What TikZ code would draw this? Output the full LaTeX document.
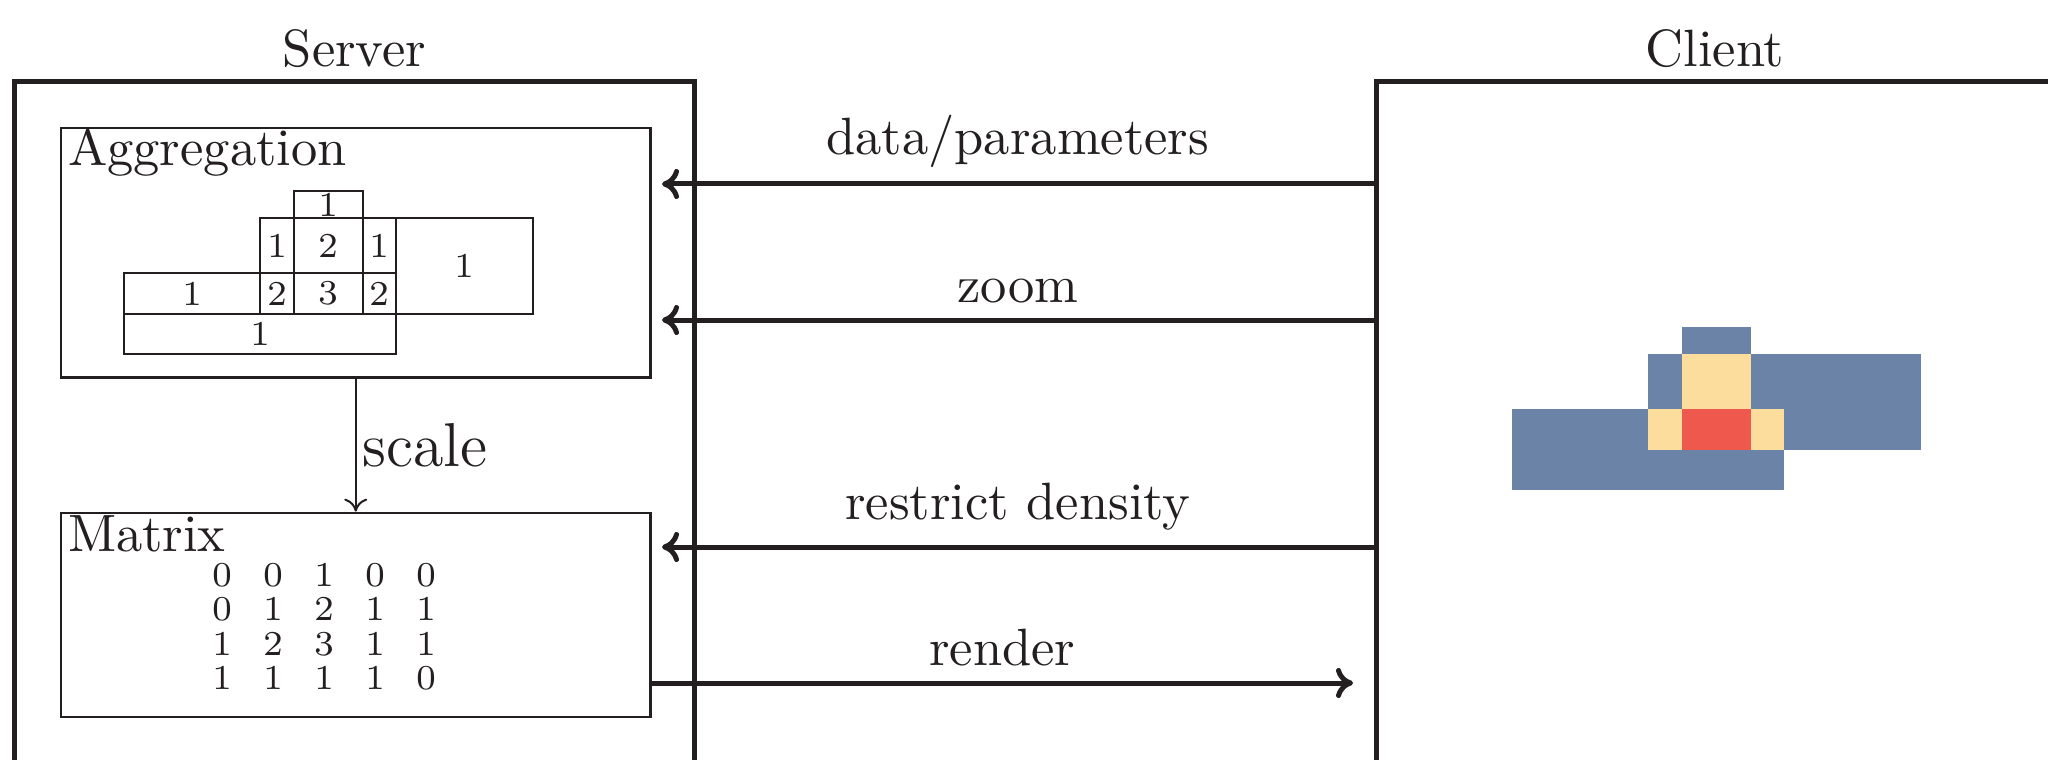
\documentclass[tikz,border=0pt]{standalone}
\usetikzlibrary{arrows.meta,matrix}
\definecolor{ink}{RGB}{35,31,32}
\definecolor{hblue}{RGB}{108,131,168}
\definecolor{hyellow}{RGB}{252,221,158}
\definecolor{hred}{RGB}{239,88,76}
\begin{document}
\begin{tikzpicture}[x=0.2pt,y=-0.2pt,
  lbl/.style={inner sep=0pt, text=ink, font=\fontsize{10.5}{12}\selectfont},
  scalelbl/.style={inner sep=0pt, text=ink, font=\fontsize{12.4}{14}\selectfont},
  bigbox/.style={draw=ink, line width=1pt, inner sep=0pt},
  panel/.style={draw=ink, line width=0.55pt, inner sep=0pt},
  cell/.style={draw=ink, line width=0.55pt, inner sep=0pt, text=ink, font=\fontsize{7}{8}\selectfont},
  msg/.style={draw=ink, line width=1pt, -{Computer Modern Rightarrow[length=3.4pt,width=6pt]}},
  thinarrow/.style={draw=ink, line width=0.4pt, -{Computer Modern Rightarrow[length=2.6pt,width=4.6pt]}},
  msglbl/.style={lbl, midway, anchor=south, yshift=2.8pt}]
\useasboundingbox (0,0) rectangle (2048,759);
\clip (0,0) rectangle (2048,759);

% outer boxes
\node[bigbox, minimum width=135.8pt, minimum height=163.6pt] (server) at (354.5,491) {};
\node[bigbox, minimum width=135.6pt, minimum height=163.6pt] (client) at (1715,491) {};
\node[lbl, anchor=base] (serverlbl) at (354.5,66.7) {Server};
\node[lbl, anchor=base] (clientlbl) at (1715,66.7) {Client};

% aggregation panel
\node[panel, minimum width=117.9pt, minimum height=49.9pt] (agg) at (355.75,252.75) {};
\node[lbl, anchor=base west] (agglbl) at (67,165) {Aggregation};

\node[cell, minimum width=13.8pt, minimum height=5.4pt] (g1) at (328.5,204.5) {1};
\node[cell, minimum width=6.8pt, minimum height=11pt] (g2) at (277,245.5) {1};
\node[cell, minimum width=13.8pt, minimum height=11pt] (g3) at (328.5,245.5) {2};
\node[cell, minimum width=6.6pt, minimum height=11pt] (g4) at (379.5,245.5) {1};
\node[cell, minimum width=27.4pt, minimum height=19.2pt] (g5) at (464.5,266) {1};
\node[cell, minimum width=27.2pt, minimum height=8.2pt] (g6) at (192,293.5) {1};
\node[cell, minimum width=6.8pt, minimum height=8.2pt] (g7) at (277,293.5) {2};
\node[cell, minimum width=13.8pt, minimum height=8.2pt] (g8) at (328.5,293.5) {3};
\node[cell, minimum width=6.6pt, minimum height=8.2pt] (g9) at (379.5,293.5) {2};
\node[cell, minimum width=54.4pt, minimum height=8pt] (g10) at (260,334) {1};

% matrix panel
\node[panel, minimum width=117.9pt, minimum height=40.8pt] (mtx) at (355.75,615) {};
\node[lbl, anchor=base west] (mtxlbl) at (67,551.5) {Matrix};
\matrix (vals) [matrix of nodes, inner sep=0pt, row sep=0pt, column sep=0pt,
  nodes={inner sep=0pt, minimum width=10.2pt, text height=6.9pt, text depth=0pt,
         text=ink, font=\fontsize{7}{8}\selectfont}]
  at (324,620.5) {
  0 & 0 & 1 & 0 & 0 \\
  0 & 1 & 2 & 1 & 1 \\
  1 & 2 & 3 & 1 & 1 \\
  1 & 1 & 1 & 1 & 0 \\
};

% scale arrow
\draw[thinarrow] (agg.south) -- (mtx.north);
\node[scalelbl, anchor=base west] (scalelbl) at (361.5,466) {scale};

% messages
\coordinate (dpEnd) at (662,184);
\coordinate (zmEnd) at (662,320);
\coordinate (rdEnd) at (662,547);
\coordinate (rEnd) at (1353,683);
\draw[msg] (client.west |- dpEnd) -- node[msglbl] (dplbl) {data/parameters} (dpEnd);
\draw[msg] (client.west |- zmEnd) -- node[msglbl] (zmlbl) {zoom} (zmEnd);
\draw[msg] (client.west |- rdEnd) -- node[msglbl] (rdlbl) {restrict density} (rdEnd);
\draw[msg] (mtx.east |- rEnd) -- node[msglbl] (rlbl) {render} (rEnd);

% client heat map
\begin{scope}[shift={(1388,136)}]
  \fill[hblue] (294,191) rectangle (363,218);
  \fill[hblue] (260,218) rectangle (294,273);
  \fill[hblue] (363,218) rectangle (396,273);
  \fill[hblue] (396,218) rectangle (533,314);
  \fill[hblue] (124,273) rectangle (260,314);
  \fill[hblue] (124,314) rectangle (396,354);
  \fill[hyellow] (294,218) rectangle (363,273);
  \fill[hyellow] (260,273) rectangle (294,314);
  \fill[hyellow] (363,273) rectangle (396,314);
  \fill[hred] (294,273) rectangle (363,314);
\end{scope}
\end{tikzpicture}
\end{document}
